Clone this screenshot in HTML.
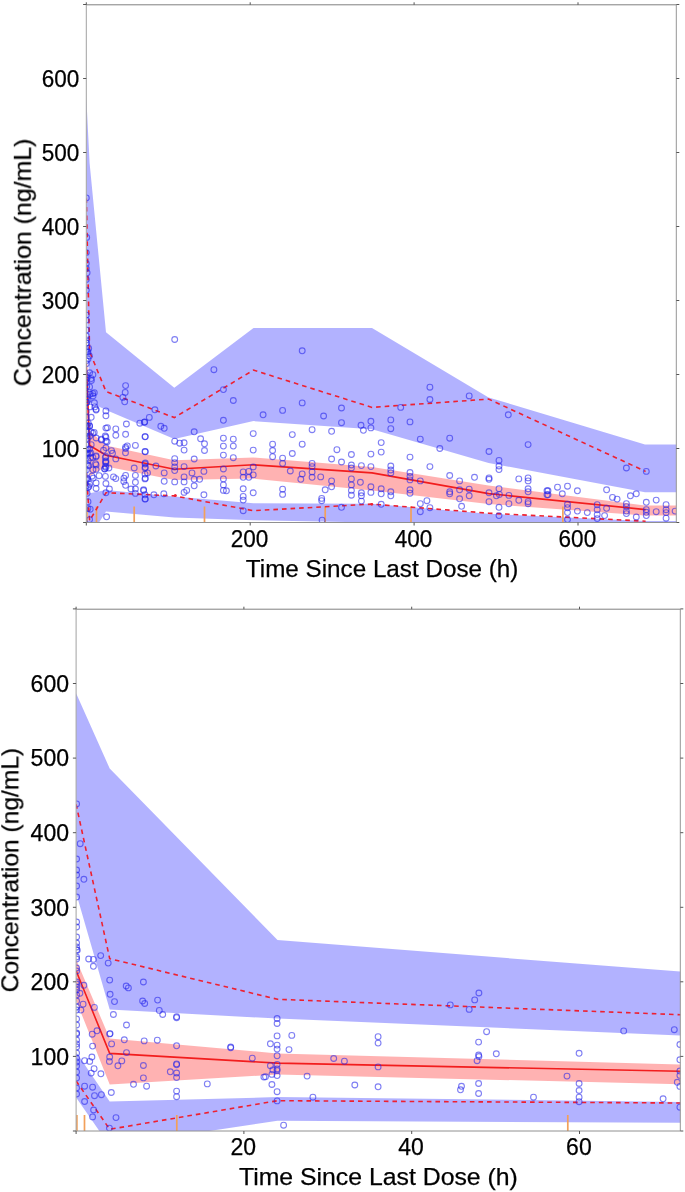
<!DOCTYPE html>
<html><head><meta charset="utf-8"><title>VPC</title>
<style>html,body{margin:0;padding:0;background:#fff}body{width:685px;height:1192px;overflow:hidden;font-family:"Liberation Sans",sans-serif}svg{display:block}</style>
</head><body>
<svg width="685" height="1192" viewBox="0 0 685 1192"><rect width="685" height="1192" fill="#fff"/><defs><filter id="nf" x="-5%" y="-5%" width="110%" height="110%"><feOffset dx="0" dy="0"/></filter></defs><clipPath id="ct"><rect x="86.3" y="4.8" width="590.0" height="517.7"/></clipPath>
<g clip-path="url(#ct)">
<polygon points="86.3,97.0 89.6,162.9 106.0,332.3 174.3,387.8 253.5,327.9 372.0,327.9 488.6,397.4 645.0,444.4 678.0,444.4 678.0,492.2 645.0,492.2 488.6,462.9 372.0,429.3 253.5,421.1 174.3,438.9 106.0,410.0 89.6,401.9 86.3,286.4" fill="rgb(0,0,255)" fill-opacity="0.3"/>
<polygon points="86.3,444.1 89.6,493.3 106.0,489.9 174.3,496.4 253.5,503.3 372.0,503.8 488.6,513.8 645.0,521.0 678.0,521.0 678.0,522.5 645.0,522.5 488.6,522.5 372.0,522.5 253.5,520.3 174.3,517.4 106.0,511.5 89.6,537.3 86.3,489.2" fill="rgb(0,0,255)" fill-opacity="0.3"/>
<polygon points="86.3,352.3 89.6,430.7 106.0,445.5 174.3,460.3 253.5,457.5 372.0,467.0 488.6,485.5 645.0,505.5 678.0,505.5 678.0,515.5 645.0,515.5 488.6,504.0 372.0,490.4 253.5,478.6 174.3,479.9 106.0,466.4 89.6,476.2 86.3,393.0" fill="rgb(255,0,0)" fill-opacity="0.30"/>
<line x1="87.0" y1="506.5" x2="87.0" y2="522.5" stroke="#f2a05a" stroke-width="1.7"/>
<line x1="96.5" y1="506.5" x2="96.5" y2="522.5" stroke="#f2a05a" stroke-width="1.7"/>
<line x1="134.2" y1="506.5" x2="134.2" y2="522.5" stroke="#f2a05a" stroke-width="1.7"/>
<line x1="204.5" y1="506.5" x2="204.5" y2="522.5" stroke="#f2a05a" stroke-width="1.7"/>
<line x1="325.2" y1="506.5" x2="325.2" y2="522.5" stroke="#f2a05a" stroke-width="1.7"/>
<line x1="411.0" y1="506.5" x2="411.0" y2="522.5" stroke="#f2a05a" stroke-width="1.7"/>
<line x1="562.9" y1="506.5" x2="562.9" y2="522.5" stroke="#f2a05a" stroke-width="1.7"/>
<polyline points="86.3,363.4 89.6,445.5 106.0,455.2 174.3,469.2 253.5,464.8 372.0,472.9 488.6,493.6 645.6,509.6" fill="none" stroke="#f21d1d" stroke-width="1.6"/>
<polyline points="86.3,198.4 89.6,351.6 106.0,391.5 174.3,417.6 253.5,370.1 372.0,407.4 488.6,399.1 645.6,471.4" fill="none" stroke="#ee2030" stroke-width="1.6" stroke-dasharray="4.6,4"/>
<polyline points="86.3,472.9 89.6,520.8 106.0,492.7 174.3,495.9 253.5,510.7 372.0,504.1 488.6,513.2 645.6,521.2" fill="none" stroke="#ee2030" stroke-width="1.6" stroke-dasharray="4.6,4"/>
<g fill="none" stroke="#2222ea" stroke-opacity="0.58" stroke-width="1.1">
<circle cx="174.7" cy="339.5" r="2.9"/>
<circle cx="213.9" cy="369.7" r="2.9"/>
<circle cx="223.4" cy="389.6" r="2.9"/>
<circle cx="233.3" cy="400.5" r="2.9"/>
<circle cx="263.1" cy="414.8" r="2.9"/>
<circle cx="223.4" cy="420.3" r="2.9"/>
<circle cx="154.9" cy="409.8" r="2.9"/>
<circle cx="149.3" cy="417.4" r="2.9"/>
<circle cx="144.4" cy="422.3" r="2.9"/>
<circle cx="160.8" cy="426.3" r="2.9"/>
<circle cx="164.2" cy="428.3" r="2.9"/>
<circle cx="194.2" cy="431.8" r="2.9"/>
<circle cx="145.0" cy="436.8" r="2.9"/>
<circle cx="145.0" cy="451.5" r="2.9"/>
<circle cx="174.7" cy="441.2" r="2.9"/>
<circle cx="179.7" cy="443.2" r="2.9"/>
<circle cx="184.1" cy="442.8" r="2.9"/>
<circle cx="184.1" cy="450.1" r="2.9"/>
<circle cx="200.6" cy="438.8" r="2.9"/>
<circle cx="204.5" cy="443.8" r="2.9"/>
<circle cx="204.5" cy="450.5" r="2.9"/>
<circle cx="223.4" cy="438.2" r="2.9"/>
<circle cx="223.4" cy="446.1" r="2.9"/>
<circle cx="223.4" cy="455.1" r="2.9"/>
<circle cx="233.3" cy="439.2" r="2.9"/>
<circle cx="233.3" cy="446.1" r="2.9"/>
<circle cx="233.3" cy="457.7" r="2.9"/>
<circle cx="253.2" cy="433.6" r="2.9"/>
<circle cx="253.2" cy="450.1" r="2.9"/>
<circle cx="272.6" cy="444.2" r="2.9"/>
<circle cx="272.6" cy="450.5" r="2.9"/>
<circle cx="272.6" cy="456.7" r="2.9"/>
<circle cx="194.2" cy="459.0" r="2.9"/>
<circle cx="174.7" cy="458.6" r="2.9"/>
<circle cx="174.7" cy="462.6" r="2.9"/>
<circle cx="174.7" cy="467.0" r="2.9"/>
<circle cx="174.7" cy="470.6" r="2.9"/>
<circle cx="184.1" cy="466.6" r="2.9"/>
<circle cx="155.9" cy="466.0" r="2.9"/>
<circle cx="145.0" cy="464.0" r="2.9"/>
<circle cx="145.0" cy="468.0" r="2.9"/>
<circle cx="147.5" cy="472.9" r="2.9"/>
<circle cx="164.2" cy="472.9" r="2.9"/>
<circle cx="164.2" cy="481.3" r="2.9"/>
<circle cx="174.7" cy="481.9" r="2.9"/>
<circle cx="184.1" cy="476.9" r="2.9"/>
<circle cx="184.1" cy="481.9" r="2.9"/>
<circle cx="192.0" cy="472.9" r="2.9"/>
<circle cx="194.2" cy="479.3" r="2.9"/>
<circle cx="199.6" cy="479.3" r="2.9"/>
<circle cx="203.9" cy="471.4" r="2.9"/>
<circle cx="194.2" cy="485.8" r="2.9"/>
<circle cx="223.4" cy="469.0" r="2.9"/>
<circle cx="223.4" cy="478.9" r="2.9"/>
<circle cx="223.4" cy="484.9" r="2.9"/>
<circle cx="223.4" cy="490.4" r="2.9"/>
<circle cx="226.4" cy="490.8" r="2.9"/>
<circle cx="243.2" cy="471.9" r="2.9"/>
<circle cx="243.2" cy="477.3" r="2.9"/>
<circle cx="248.8" cy="471.4" r="2.9"/>
<circle cx="248.8" cy="477.3" r="2.9"/>
<circle cx="253.2" cy="467.0" r="2.9"/>
<circle cx="253.2" cy="474.9" r="2.9"/>
<circle cx="243.2" cy="488.8" r="2.9"/>
<circle cx="253.2" cy="492.8" r="2.9"/>
<circle cx="243.2" cy="496.4" r="2.9"/>
<circle cx="243.2" cy="500.1" r="2.9"/>
<circle cx="243.2" cy="510.7" r="2.9"/>
<circle cx="145.0" cy="478.9" r="2.9"/>
<circle cx="143.6" cy="489.8" r="2.9"/>
<circle cx="145.0" cy="494.8" r="2.9"/>
<circle cx="145.0" cy="499.1" r="2.9"/>
<circle cx="153.9" cy="494.8" r="2.9"/>
<circle cx="163.8" cy="493.8" r="2.9"/>
<circle cx="184.1" cy="492.4" r="2.9"/>
<circle cx="186.7" cy="490.4" r="2.9"/>
<circle cx="203.9" cy="494.8" r="2.9"/>
<circle cx="302.2" cy="350.8" r="2.9"/>
<circle cx="302.2" cy="402.9" r="2.9"/>
<circle cx="282.6" cy="410.4" r="2.9"/>
<circle cx="323.6" cy="416.0" r="2.9"/>
<circle cx="341.5" cy="408.0" r="2.9"/>
<circle cx="341.5" cy="422.7" r="2.9"/>
<circle cx="361.0" cy="425.3" r="2.9"/>
<circle cx="363.4" cy="430.3" r="2.9"/>
<circle cx="370.9" cy="421.3" r="2.9"/>
<circle cx="370.9" cy="427.9" r="2.9"/>
<circle cx="390.8" cy="419.9" r="2.9"/>
<circle cx="390.8" cy="428.7" r="2.9"/>
<circle cx="400.7" cy="407.4" r="2.9"/>
<circle cx="410.0" cy="421.9" r="2.9"/>
<circle cx="292.3" cy="434.6" r="2.9"/>
<circle cx="312.1" cy="429.7" r="2.9"/>
<circle cx="331.6" cy="431.3" r="2.9"/>
<circle cx="302.2" cy="444.2" r="2.9"/>
<circle cx="292.3" cy="453.5" r="2.9"/>
<circle cx="336.9" cy="449.7" r="2.9"/>
<circle cx="331.6" cy="459.0" r="2.9"/>
<circle cx="282.6" cy="458.1" r="2.9"/>
<circle cx="282.6" cy="463.4" r="2.9"/>
<circle cx="351.4" cy="454.5" r="2.9"/>
<circle cx="370.9" cy="454.1" r="2.9"/>
<circle cx="381.2" cy="442.6" r="2.9"/>
<circle cx="381.2" cy="452.1" r="2.9"/>
<circle cx="341.5" cy="462.0" r="2.9"/>
<circle cx="312.1" cy="463.4" r="2.9"/>
<circle cx="312.1" cy="466.6" r="2.9"/>
<circle cx="312.1" cy="471.9" r="2.9"/>
<circle cx="312.1" cy="477.3" r="2.9"/>
<circle cx="290.3" cy="471.0" r="2.9"/>
<circle cx="302.2" cy="473.9" r="2.9"/>
<circle cx="300.8" cy="479.3" r="2.9"/>
<circle cx="320.7" cy="476.9" r="2.9"/>
<circle cx="331.6" cy="480.9" r="2.9"/>
<circle cx="331.6" cy="486.8" r="2.9"/>
<circle cx="325.2" cy="489.8" r="2.9"/>
<circle cx="351.4" cy="465.0" r="2.9"/>
<circle cx="351.4" cy="468.0" r="2.9"/>
<circle cx="351.4" cy="478.9" r="2.9"/>
<circle cx="351.4" cy="484.9" r="2.9"/>
<circle cx="351.4" cy="490.4" r="2.9"/>
<circle cx="351.4" cy="495.2" r="2.9"/>
<circle cx="361.4" cy="465.6" r="2.9"/>
<circle cx="360.4" cy="482.3" r="2.9"/>
<circle cx="361.4" cy="492.8" r="2.9"/>
<circle cx="361.4" cy="495.8" r="2.9"/>
<circle cx="361.4" cy="501.1" r="2.9"/>
<circle cx="370.9" cy="466.6" r="2.9"/>
<circle cx="370.9" cy="486.8" r="2.9"/>
<circle cx="370.9" cy="492.4" r="2.9"/>
<circle cx="381.2" cy="488.8" r="2.9"/>
<circle cx="381.2" cy="493.8" r="2.9"/>
<circle cx="381.2" cy="504.3" r="2.9"/>
<circle cx="390.8" cy="466.0" r="2.9"/>
<circle cx="390.8" cy="470.0" r="2.9"/>
<circle cx="390.8" cy="472.9" r="2.9"/>
<circle cx="390.8" cy="491.8" r="2.9"/>
<circle cx="390.8" cy="495.8" r="2.9"/>
<circle cx="410.0" cy="457.1" r="2.9"/>
<circle cx="410.0" cy="472.5" r="2.9"/>
<circle cx="410.0" cy="476.5" r="2.9"/>
<circle cx="410.0" cy="479.9" r="2.9"/>
<circle cx="410.0" cy="489.8" r="2.9"/>
<circle cx="410.0" cy="493.2" r="2.9"/>
<circle cx="282.6" cy="489.2" r="2.9"/>
<circle cx="282.6" cy="494.4" r="2.9"/>
<circle cx="321.7" cy="498.4" r="2.9"/>
<circle cx="321.7" cy="500.7" r="2.9"/>
<circle cx="341.5" cy="507.3" r="2.9"/>
<circle cx="322.1" cy="520.2" r="2.9"/>
<circle cx="429.9" cy="387.2" r="2.9"/>
<circle cx="429.9" cy="399.5" r="2.9"/>
<circle cx="469.2" cy="395.9" r="2.9"/>
<circle cx="508.3" cy="414.8" r="2.9"/>
<circle cx="420.3" cy="439.2" r="2.9"/>
<circle cx="449.7" cy="438.2" r="2.9"/>
<circle cx="439.8" cy="448.5" r="2.9"/>
<circle cx="489.0" cy="451.5" r="2.9"/>
<circle cx="528.1" cy="444.6" r="2.9"/>
<circle cx="499.0" cy="460.4" r="2.9"/>
<circle cx="499.0" cy="466.0" r="2.9"/>
<circle cx="499.0" cy="469.6" r="2.9"/>
<circle cx="429.9" cy="466.6" r="2.9"/>
<circle cx="449.7" cy="475.5" r="2.9"/>
<circle cx="459.6" cy="480.9" r="2.9"/>
<circle cx="474.5" cy="477.3" r="2.9"/>
<circle cx="489.0" cy="477.9" r="2.9"/>
<circle cx="489.0" cy="479.3" r="2.9"/>
<circle cx="518.8" cy="478.9" r="2.9"/>
<circle cx="528.1" cy="477.9" r="2.9"/>
<circle cx="528.1" cy="480.9" r="2.9"/>
<circle cx="420.3" cy="480.9" r="2.9"/>
<circle cx="449.7" cy="491.8" r="2.9"/>
<circle cx="449.7" cy="493.8" r="2.9"/>
<circle cx="459.6" cy="489.8" r="2.9"/>
<circle cx="469.2" cy="489.2" r="2.9"/>
<circle cx="469.2" cy="495.8" r="2.9"/>
<circle cx="459.6" cy="498.8" r="2.9"/>
<circle cx="461.6" cy="506.3" r="2.9"/>
<circle cx="489.0" cy="492.8" r="2.9"/>
<circle cx="489.0" cy="501.7" r="2.9"/>
<circle cx="499.0" cy="488.8" r="2.9"/>
<circle cx="496.4" cy="495.8" r="2.9"/>
<circle cx="499.4" cy="494.4" r="2.9"/>
<circle cx="508.9" cy="495.4" r="2.9"/>
<circle cx="508.9" cy="503.7" r="2.9"/>
<circle cx="518.8" cy="500.3" r="2.9"/>
<circle cx="528.1" cy="488.8" r="2.9"/>
<circle cx="528.1" cy="491.8" r="2.9"/>
<circle cx="528.1" cy="501.7" r="2.9"/>
<circle cx="528.1" cy="503.7" r="2.9"/>
<circle cx="499.0" cy="507.3" r="2.9"/>
<circle cx="499.0" cy="515.6" r="2.9"/>
<circle cx="426.9" cy="500.7" r="2.9"/>
<circle cx="420.3" cy="503.7" r="2.9"/>
<circle cx="429.9" cy="507.7" r="2.9"/>
<circle cx="420.3" cy="511.7" r="2.9"/>
<circle cx="547.0" cy="490.8" r="2.9"/>
<circle cx="547.0" cy="494.8" r="2.9"/>
<circle cx="626.4" cy="468.0" r="2.9"/>
<circle cx="646.3" cy="471.4" r="2.9"/>
<circle cx="557.5" cy="487.2" r="2.9"/>
<circle cx="567.5" cy="486.2" r="2.9"/>
<circle cx="562.3" cy="493.8" r="2.9"/>
<circle cx="577.4" cy="490.8" r="2.9"/>
<circle cx="606.6" cy="489.8" r="2.9"/>
<circle cx="612.5" cy="497.4" r="2.9"/>
<circle cx="617.1" cy="499.1" r="2.9"/>
<circle cx="630.4" cy="495.8" r="2.9"/>
<circle cx="636.3" cy="493.8" r="2.9"/>
<circle cx="646.3" cy="502.3" r="2.9"/>
<circle cx="656.2" cy="500.1" r="2.9"/>
<circle cx="666.1" cy="504.7" r="2.9"/>
<circle cx="548.0" cy="490.8" r="2.9"/>
<circle cx="548.0" cy="494.8" r="2.9"/>
<circle cx="567.5" cy="504.3" r="2.9"/>
<circle cx="567.5" cy="507.7" r="2.9"/>
<circle cx="567.5" cy="512.6" r="2.9"/>
<circle cx="567.5" cy="519.6" r="2.9"/>
<circle cx="577.4" cy="511.1" r="2.9"/>
<circle cx="587.3" cy="512.6" r="2.9"/>
<circle cx="597.2" cy="504.7" r="2.9"/>
<circle cx="597.2" cy="509.7" r="2.9"/>
<circle cx="597.2" cy="514.6" r="2.9"/>
<circle cx="597.2" cy="518.6" r="2.9"/>
<circle cx="604.6" cy="515.6" r="2.9"/>
<circle cx="606.6" cy="508.3" r="2.9"/>
<circle cx="626.4" cy="503.7" r="2.9"/>
<circle cx="626.4" cy="506.7" r="2.9"/>
<circle cx="626.4" cy="511.1" r="2.9"/>
<circle cx="626.4" cy="513.6" r="2.9"/>
<circle cx="636.3" cy="517.0" r="2.9"/>
<circle cx="646.3" cy="509.7" r="2.9"/>
<circle cx="646.3" cy="512.3" r="2.9"/>
<circle cx="646.3" cy="515.6" r="2.9"/>
<circle cx="656.2" cy="511.7" r="2.9"/>
<circle cx="666.1" cy="509.7" r="2.9"/>
<circle cx="666.1" cy="512.6" r="2.9"/>
<circle cx="666.1" cy="518.2" r="2.9"/>
<circle cx="675.1" cy="511.1" r="2.9"/>
<circle cx="105.9" cy="410.9" r="2.9"/>
<circle cx="105.9" cy="415.8" r="2.9"/>
<circle cx="105.9" cy="428.1" r="2.9"/>
<circle cx="105.9" cy="437.3" r="2.9"/>
<circle cx="105.9" cy="441.2" r="2.9"/>
<circle cx="105.9" cy="447.8" r="2.9"/>
<circle cx="105.9" cy="456.5" r="2.9"/>
<circle cx="105.9" cy="460.9" r="2.9"/>
<circle cx="105.9" cy="462.6" r="2.9"/>
<circle cx="105.9" cy="467.5" r="2.9"/>
<circle cx="105.9" cy="483.5" r="2.9"/>
<circle cx="105.9" cy="492.7" r="2.9"/>
<circle cx="107.4" cy="427.7" r="2.9"/>
<circle cx="105.3" cy="436.0" r="2.9"/>
<circle cx="107.1" cy="441.7" r="2.9"/>
<circle cx="105.3" cy="457.7" r="2.9"/>
<circle cx="105.5" cy="461.9" r="2.9"/>
<circle cx="105.4" cy="466.3" r="2.9"/>
<circle cx="104.8" cy="468.8" r="2.9"/>
<circle cx="105.4" cy="476.4" r="2.9"/>
<circle cx="108.9" cy="468.0" r="2.9"/>
<circle cx="109.4" cy="489.0" r="2.9"/>
<circle cx="106.6" cy="516.8" r="2.9"/>
<circle cx="111.5" cy="450.6" r="2.9"/>
<circle cx="112.5" cy="453.3" r="2.9"/>
<circle cx="113.5" cy="476.9" r="2.9"/>
<circle cx="115.8" cy="428.9" r="2.9"/>
<circle cx="115.8" cy="435.3" r="2.9"/>
<circle cx="115.8" cy="458.9" r="2.9"/>
<circle cx="115.8" cy="478.6" r="2.9"/>
<circle cx="125.6" cy="385.6" r="2.9"/>
<circle cx="125.2" cy="392.4" r="2.9"/>
<circle cx="122.9" cy="397.4" r="2.9"/>
<circle cx="124.7" cy="401.8" r="2.9"/>
<circle cx="126.4" cy="424.0" r="2.9"/>
<circle cx="125.6" cy="434.3" r="2.9"/>
<circle cx="125.6" cy="447.1" r="2.9"/>
<circle cx="125.6" cy="448.6" r="2.9"/>
<circle cx="125.5" cy="452.8" r="2.9"/>
<circle cx="127.3" cy="445.9" r="2.9"/>
<circle cx="125.6" cy="475.4" r="2.9"/>
<circle cx="125.6" cy="485.3" r="2.9"/>
<circle cx="123.9" cy="478.1" r="2.9"/>
<circle cx="123.8" cy="481.6" r="2.9"/>
<circle cx="131.0" cy="489.0" r="2.9"/>
<circle cx="134.2" cy="468.0" r="2.9"/>
<circle cx="135.4" cy="445.4" r="2.9"/>
<circle cx="135.4" cy="475.4" r="2.9"/>
<circle cx="135.4" cy="482.3" r="2.9"/>
<circle cx="135.4" cy="489.0" r="2.9"/>
<circle cx="135.4" cy="493.4" r="2.9"/>
<circle cx="139.8" cy="423.2" r="2.9"/>
<circle cx="144.7" cy="422.0" r="2.9"/>
<circle cx="145.3" cy="436.6" r="2.9"/>
<circle cx="145.3" cy="451.8" r="2.9"/>
<circle cx="145.3" cy="463.0" r="2.9"/>
<circle cx="145.3" cy="467.3" r="2.9"/>
<circle cx="145.0" cy="474.1" r="2.9"/>
<circle cx="145.3" cy="478.2" r="2.9"/>
<circle cx="143.6" cy="490.5" r="2.9"/>
<circle cx="145.3" cy="498.9" r="2.9"/>
<circle cx="96.1" cy="409.2" r="2.9"/>
<circle cx="96.1" cy="410.1" r="2.9"/>
<circle cx="96.1" cy="438.0" r="2.9"/>
<circle cx="96.1" cy="455.9" r="2.9"/>
<circle cx="96.1" cy="456.7" r="2.9"/>
<circle cx="96.1" cy="464.9" r="2.9"/>
<circle cx="96.1" cy="469.4" r="2.9"/>
<circle cx="96.1" cy="482.9" r="2.9"/>
<circle cx="96.1" cy="488.5" r="2.9"/>
<circle cx="95.5" cy="463.7" r="2.9"/>
<circle cx="99.1" cy="475.7" r="2.9"/>
<circle cx="101.4" cy="439.2" r="2.9"/>
<circle cx="101.4" cy="439.9" r="2.9"/>
<circle cx="103.5" cy="450.3" r="2.9"/>
<circle cx="104.6" cy="469.0" r="2.9"/>
<circle cx="88.7" cy="348.5" r="2.9"/>
<circle cx="87.5" cy="351.8" r="2.9"/>
<circle cx="88.0" cy="352.3" r="2.9"/>
<circle cx="88.0" cy="359.1" r="2.9"/>
<circle cx="89.4" cy="355.9" r="2.9"/>
<circle cx="89.6" cy="372.8" r="2.9"/>
<circle cx="91.2" cy="378.6" r="2.9"/>
<circle cx="91.4" cy="380.5" r="2.9"/>
<circle cx="92.9" cy="374.7" r="2.9"/>
<circle cx="89.6" cy="386.9" r="2.9"/>
<circle cx="90.1" cy="394.1" r="2.9"/>
<circle cx="92.8" cy="393.5" r="2.9"/>
<circle cx="93.0" cy="396.0" r="2.9"/>
<circle cx="94.3" cy="392.7" r="2.9"/>
<circle cx="94.4" cy="402.8" r="2.9"/>
<circle cx="94.8" cy="406.9" r="2.9"/>
<circle cx="89.9" cy="406.9" r="2.9"/>
<circle cx="91.2" cy="417.3" r="2.9"/>
<circle cx="88.1" cy="399.9" r="2.9"/>
<circle cx="87.0" cy="396.7" r="2.9"/>
<circle cx="86.8" cy="402.5" r="2.9"/>
<circle cx="86.7" cy="385.9" r="2.9"/>
<circle cx="87.1" cy="377.9" r="2.9"/>
<circle cx="88.3" cy="423.1" r="2.9"/>
<circle cx="87.9" cy="426.4" r="2.9"/>
<circle cx="89.6" cy="426.1" r="2.9"/>
<circle cx="86.4" cy="343.1" r="2.9"/>
<circle cx="89.6" cy="425.9" r="2.9"/>
<circle cx="91.0" cy="432.0" r="2.9"/>
<circle cx="92.9" cy="433.1" r="2.9"/>
<circle cx="94.2" cy="432.4" r="2.9"/>
<circle cx="89.8" cy="436.0" r="2.9"/>
<circle cx="91.2" cy="444.7" r="2.9"/>
<circle cx="87.9" cy="438.2" r="2.9"/>
<circle cx="87.8" cy="449.1" r="2.9"/>
<circle cx="87.1" cy="452.7" r="2.9"/>
<circle cx="87.6" cy="453.4" r="2.9"/>
<circle cx="88.1" cy="460.7" r="2.9"/>
<circle cx="87.8" cy="465.0" r="2.9"/>
<circle cx="88.7" cy="465.7" r="2.9"/>
<circle cx="89.6" cy="449.1" r="2.9"/>
<circle cx="89.6" cy="453.4" r="2.9"/>
<circle cx="90.8" cy="453.0" r="2.9"/>
<circle cx="90.4" cy="457.8" r="2.9"/>
<circle cx="92.9" cy="457.5" r="2.9"/>
<circle cx="92.9" cy="469.8" r="2.9"/>
<circle cx="91.9" cy="476.2" r="2.9"/>
<circle cx="93.2" cy="478.1" r="2.9"/>
<circle cx="89.7" cy="484.3" r="2.9"/>
<circle cx="87.1" cy="478.1" r="2.9"/>
<circle cx="87.9" cy="479.1" r="2.9"/>
<circle cx="88.1" cy="487.5" r="2.9"/>
<circle cx="88.8" cy="486.5" r="2.9"/>
<circle cx="87.1" cy="493.3" r="2.9"/>
<circle cx="88.0" cy="501.7" r="2.9"/>
<circle cx="87.9" cy="508.5" r="2.9"/>
<circle cx="90.2" cy="509.2" r="2.9"/>
<circle cx="89.6" cy="519.6" r="2.9"/>
<circle cx="86.7" cy="237.5" r="2.9"/>
<circle cx="87.1" cy="272.8" r="2.9"/>
<circle cx="86.3" cy="197.9" r="2.9"/>
<circle cx="86.3" cy="252.6" r="2.9"/>
<circle cx="86.3" cy="263.5" r="2.9"/>
<circle cx="86.3" cy="268.5" r="2.9"/>
<circle cx="86.3" cy="279.4" r="2.9"/>
<circle cx="86.3" cy="290.3" r="2.9"/>
<circle cx="86.3" cy="315.1" r="2.9"/>
<circle cx="86.3" cy="320.1" r="2.9"/>
<circle cx="86.3" cy="330.0" r="2.9"/>
<circle cx="86.3" cy="336.0" r="2.9"/>
<circle cx="86.3" cy="339.9" r="2.9"/>
<circle cx="86.3" cy="342.9" r="2.9"/>
<circle cx="86.3" cy="349.9" r="2.9"/>
<circle cx="86.3" cy="351.8" r="2.9"/>
<circle cx="86.3" cy="360.8" r="2.9"/>
<circle cx="86.3" cy="363.7" r="2.9"/>
<circle cx="86.3" cy="374.7" r="2.9"/>
<circle cx="86.3" cy="376.6" r="2.9"/>
<circle cx="86.3" cy="379.6" r="2.9"/>
<circle cx="86.3" cy="382.6" r="2.9"/>
<circle cx="86.3" cy="387.6" r="2.9"/>
<circle cx="86.3" cy="393.5" r="2.9"/>
<circle cx="86.3" cy="399.5" r="2.9"/>
<circle cx="86.3" cy="411.4" r="2.9"/>
<circle cx="86.3" cy="425.3" r="2.9"/>
<circle cx="86.3" cy="426.3" r="2.9"/>
<circle cx="86.3" cy="436.2" r="2.9"/>
<circle cx="86.3" cy="445.1" r="2.9"/>
<circle cx="86.3" cy="458.0" r="2.9"/>
<circle cx="86.3" cy="464.0" r="2.9"/>
<circle cx="86.3" cy="485.8" r="2.9"/>
<circle cx="86.3" cy="439.2" r="2.9"/>
<circle cx="86.3" cy="454.0" r="2.9"/>
<circle cx="86.3" cy="469.9" r="2.9"/>
<circle cx="86.3" cy="479.8" r="2.9"/>
<circle cx="86.3" cy="402.4" r="2.9"/>
<circle cx="86.3" cy="417.3" r="2.9"/>
<circle cx="86.3" cy="432.2" r="2.9"/>
<circle cx="86.3" cy="450.1" r="2.9"/>
</g></g>
<path d="M86.3,4.8H676.3" stroke="#808080" fill="none"/><path d="M676.3,4.8V522.5" stroke="#959595" fill="none"/><path d="M86.3,522.5H676.3" stroke="#909090" fill="none"/><path d="M86.3,4.8V522.5" stroke="#a2a2a2" fill="none"/>
<g stroke="#555" stroke-width="1">
<line x1="83.1" y1="522.5" x2="86.3" y2="522.5"/>
<line x1="676.3" y1="522.5" x2="679.3" y2="522.5"/>
<line x1="83.1" y1="448.5" x2="86.3" y2="448.5"/>
<line x1="676.3" y1="448.5" x2="679.3" y2="448.5"/>
<line x1="83.1" y1="374.5" x2="86.3" y2="374.5"/>
<line x1="676.3" y1="374.5" x2="679.3" y2="374.5"/>
<line x1="83.1" y1="300.5" x2="86.3" y2="300.5"/>
<line x1="676.3" y1="300.5" x2="679.3" y2="300.5"/>
<line x1="83.1" y1="226.5" x2="86.3" y2="226.5"/>
<line x1="676.3" y1="226.5" x2="679.3" y2="226.5"/>
<line x1="83.1" y1="152.5" x2="86.3" y2="152.5"/>
<line x1="676.3" y1="152.5" x2="679.3" y2="152.5"/>
<line x1="83.1" y1="78.5" x2="86.3" y2="78.5"/>
<line x1="676.3" y1="78.5" x2="679.3" y2="78.5"/>
<line x1="83.1" y1="4.5" x2="86.3" y2="4.5"/>
<line x1="676.3" y1="4.5" x2="679.3" y2="4.5"/>
<line x1="86.3" y1="522.5" x2="86.3" y2="525.5"/>
<line x1="86.3" y1="2.3" x2="86.3" y2="4.8"/>
<line x1="250.2" y1="522.5" x2="250.2" y2="525.5"/>
<line x1="250.2" y1="2.3" x2="250.2" y2="4.8"/>
<line x1="414.1" y1="522.5" x2="414.1" y2="525.5"/>
<line x1="414.1" y1="2.3" x2="414.1" y2="4.8"/>
<line x1="578.0" y1="522.5" x2="578.0" y2="525.5"/>
<line x1="578.0" y1="2.3" x2="578.0" y2="4.8"/>
</g>
<g font-family="Liberation Sans, sans-serif" fill="#000" stroke="#000" stroke-width="0.25" filter="url(#nf)">
<text x="79.3" y="457.2" font-size="23.60" text-anchor="end" textLength="37.6" lengthAdjust="spacingAndGlyphs">100</text>
<text x="79.3" y="383.2" font-size="23.60" text-anchor="end" textLength="37.6" lengthAdjust="spacingAndGlyphs">200</text>
<text x="79.3" y="309.2" font-size="23.60" text-anchor="end" textLength="37.6" lengthAdjust="spacingAndGlyphs">300</text>
<text x="79.3" y="235.2" font-size="23.60" text-anchor="end" textLength="37.6" lengthAdjust="spacingAndGlyphs">400</text>
<text x="79.3" y="161.2" font-size="23.60" text-anchor="end" textLength="37.6" lengthAdjust="spacingAndGlyphs">500</text>
<text x="79.3" y="87.2" font-size="23.60" text-anchor="end" textLength="37.6" lengthAdjust="spacingAndGlyphs">600</text>
<text x="249.6" y="546.5" font-size="23.60" text-anchor="middle" textLength="37.6" lengthAdjust="spacingAndGlyphs">200</text>
<text x="413.5" y="546.5" font-size="23.60" text-anchor="middle" textLength="37.6" lengthAdjust="spacingAndGlyphs">400</text>
<text x="577.4" y="546.5" font-size="23.60" text-anchor="middle" textLength="37.6" lengthAdjust="spacingAndGlyphs">600</text>
<text x="382.1" y="577.4" font-size="24.20" text-anchor="middle" textLength="272.5" lengthAdjust="spacingAndGlyphs">Time Since Last Dose (h)</text>
<text transform="translate(30.8,262.4) rotate(-90)" font-size="24" text-anchor="middle" textLength="247.5" lengthAdjust="spacingAndGlyphs">Concentration (ng/mL)</text>
</g><circle cx="175.3" cy="495.6" r="1.5" fill="#ee2030"/><circle cx="371.8" cy="504.3" r="1.4" fill="#ee2030"/><clipPath id="cb"><rect x="76.1" y="609.2" width="604.2" height="521.8"/></clipPath>
<g clip-path="url(#cb)">
<polygon points="76.1,693.2 109.7,768.5 277.5,940.1 680.2,971.6 697.0,972.9 697.0,1036.2 680.2,1035.5 277.5,1018.6 109.7,1009.4 76.1,893.1" fill="rgb(0,0,255)" fill-opacity="0.3"/>
<polygon points="76.1,1051.9 109.7,1101.5 277.5,1097.1 680.2,1101.9 697.0,1102.1 697.0,1122.8 680.2,1122.7 277.5,1120.8 109.7,1145.9 76.1,1097.4" fill="rgb(0,0,255)" fill-opacity="0.3"/>
<polygon points="76.1,959.5 109.7,1038.5 277.5,1053.4 680.2,1064.6 697.0,1065.1 697.0,1084.7 680.2,1084.3 277.5,1074.5 109.7,1084.4 76.1,1000.5" fill="rgb(255,0,0)" fill-opacity="0.30"/>
<line x1="76.9" y1="1115.0" x2="76.9" y2="1131.0" stroke="#f2a05a" stroke-width="1.7"/>
<line x1="84.5" y1="1115.0" x2="84.5" y2="1131.0" stroke="#f2a05a" stroke-width="1.7"/>
<line x1="176.8" y1="1115.0" x2="176.8" y2="1131.0" stroke="#f2a05a" stroke-width="1.7"/>
<line x1="567.8" y1="1115.0" x2="567.8" y2="1131.0" stroke="#f2a05a" stroke-width="1.7"/>
<polyline points="76.1,970.7 109.7,1053.4 277.5,1063.1 680.2,1071.3 697.0,1071.7" fill="none" stroke="#f21d1d" stroke-width="1.6"/>
<polyline points="76.1,804.3 109.7,958.7 277.5,999.3 680.2,1014.7 697.0,1015.3" fill="none" stroke="#ee2030" stroke-width="1.6" stroke-dasharray="4.6,4"/>
<polyline points="76.1,1081.0 109.7,1129.3 277.5,1100.7 680.2,1103.0 697.0,1103.1" fill="none" stroke="#ee2030" stroke-width="1.6" stroke-dasharray="4.6,4"/>
<g fill="none" stroke="#2222ea" stroke-opacity="0.58" stroke-width="1.1">
<circle cx="277.1" cy="1018.5" r="2.9"/>
<circle cx="277.1" cy="1023.5" r="2.9"/>
<circle cx="277.1" cy="1035.9" r="2.9"/>
<circle cx="277.1" cy="1045.1" r="2.9"/>
<circle cx="277.1" cy="1049.1" r="2.9"/>
<circle cx="277.1" cy="1055.8" r="2.9"/>
<circle cx="277.1" cy="1064.4" r="2.9"/>
<circle cx="277.1" cy="1068.9" r="2.9"/>
<circle cx="277.1" cy="1070.6" r="2.9"/>
<circle cx="277.1" cy="1075.6" r="2.9"/>
<circle cx="277.1" cy="1091.7" r="2.9"/>
<circle cx="277.1" cy="1100.9" r="2.9"/>
<circle cx="291.8" cy="1035.4" r="2.9"/>
<circle cx="270.4" cy="1043.8" r="2.9"/>
<circle cx="289.0" cy="1049.6" r="2.9"/>
<circle cx="270.4" cy="1065.7" r="2.9"/>
<circle cx="272.9" cy="1069.9" r="2.9"/>
<circle cx="271.9" cy="1074.4" r="2.9"/>
<circle cx="265.5" cy="1076.8" r="2.9"/>
<circle cx="271.9" cy="1084.5" r="2.9"/>
<circle cx="307.1" cy="1076.1" r="2.9"/>
<circle cx="312.9" cy="1097.2" r="2.9"/>
<circle cx="283.6" cy="1125.2" r="2.9"/>
<circle cx="333.7" cy="1058.5" r="2.9"/>
<circle cx="344.4" cy="1061.2" r="2.9"/>
<circle cx="354.8" cy="1085.0" r="2.9"/>
<circle cx="378.1" cy="1036.7" r="2.9"/>
<circle cx="378.1" cy="1043.1" r="2.9"/>
<circle cx="378.1" cy="1066.9" r="2.9"/>
<circle cx="378.1" cy="1086.8" r="2.9"/>
<circle cx="478.9" cy="993.0" r="2.9"/>
<circle cx="474.7" cy="999.9" r="2.9"/>
<circle cx="450.3" cy="1004.9" r="2.9"/>
<circle cx="469.2" cy="1009.4" r="2.9"/>
<circle cx="486.6" cy="1031.7" r="2.9"/>
<circle cx="478.6" cy="1042.1" r="2.9"/>
<circle cx="478.6" cy="1055.0" r="2.9"/>
<circle cx="478.9" cy="1056.5" r="2.9"/>
<circle cx="477.1" cy="1060.7" r="2.9"/>
<circle cx="496.3" cy="1053.8" r="2.9"/>
<circle cx="478.6" cy="1083.5" r="2.9"/>
<circle cx="478.6" cy="1093.5" r="2.9"/>
<circle cx="461.5" cy="1086.3" r="2.9"/>
<circle cx="460.5" cy="1089.8" r="2.9"/>
<circle cx="533.5" cy="1097.2" r="2.9"/>
<circle cx="567.0" cy="1076.1" r="2.9"/>
<circle cx="579.1" cy="1053.3" r="2.9"/>
<circle cx="579.1" cy="1083.5" r="2.9"/>
<circle cx="579.1" cy="1090.5" r="2.9"/>
<circle cx="579.1" cy="1097.2" r="2.9"/>
<circle cx="579.1" cy="1101.7" r="2.9"/>
<circle cx="623.7" cy="1030.9" r="2.9"/>
<circle cx="674.3" cy="1029.7" r="2.9"/>
<circle cx="679.9" cy="1044.5" r="2.9"/>
<circle cx="679.9" cy="1059.8" r="2.9"/>
<circle cx="679.9" cy="1071.0" r="2.9"/>
<circle cx="679.9" cy="1075.4" r="2.9"/>
<circle cx="677.3" cy="1082.3" r="2.9"/>
<circle cx="679.9" cy="1086.4" r="2.9"/>
<circle cx="663.1" cy="1098.8" r="2.9"/>
<circle cx="679.9" cy="1107.2" r="2.9"/>
<circle cx="176.6" cy="1016.8" r="2.9"/>
<circle cx="176.6" cy="1017.7" r="2.9"/>
<circle cx="176.6" cy="1045.8" r="2.9"/>
<circle cx="176.6" cy="1063.9" r="2.9"/>
<circle cx="176.6" cy="1064.7" r="2.9"/>
<circle cx="176.6" cy="1073.0" r="2.9"/>
<circle cx="176.6" cy="1077.5" r="2.9"/>
<circle cx="176.6" cy="1091.1" r="2.9"/>
<circle cx="176.6" cy="1096.7" r="2.9"/>
<circle cx="170.3" cy="1071.8" r="2.9"/>
<circle cx="207.3" cy="1083.9" r="2.9"/>
<circle cx="230.7" cy="1047.0" r="2.9"/>
<circle cx="230.7" cy="1047.8" r="2.9"/>
<circle cx="252.3" cy="1058.2" r="2.9"/>
<circle cx="263.9" cy="1077.1" r="2.9"/>
<circle cx="100.7" cy="955.6" r="2.9"/>
<circle cx="88.7" cy="959.0" r="2.9"/>
<circle cx="93.4" cy="959.4" r="2.9"/>
<circle cx="93.4" cy="966.3" r="2.9"/>
<circle cx="108.2" cy="963.1" r="2.9"/>
<circle cx="109.7" cy="980.1" r="2.9"/>
<circle cx="126.2" cy="986.0" r="2.9"/>
<circle cx="128.4" cy="987.9" r="2.9"/>
<circle cx="143.4" cy="982.0" r="2.9"/>
<circle cx="110.1" cy="994.3" r="2.9"/>
<circle cx="114.5" cy="1001.6" r="2.9"/>
<circle cx="142.6" cy="1001.0" r="2.9"/>
<circle cx="144.7" cy="1003.5" r="2.9"/>
<circle cx="157.6" cy="1000.1" r="2.9"/>
<circle cx="159.3" cy="1010.4" r="2.9"/>
<circle cx="162.7" cy="1014.5" r="2.9"/>
<circle cx="113.4" cy="1014.5" r="2.9"/>
<circle cx="126.5" cy="1025.0" r="2.9"/>
<circle cx="94.4" cy="1007.4" r="2.9"/>
<circle cx="83.1" cy="1004.2" r="2.9"/>
<circle cx="80.9" cy="1010.1" r="2.9"/>
<circle cx="79.9" cy="993.3" r="2.9"/>
<circle cx="83.9" cy="985.3" r="2.9"/>
<circle cx="97.0" cy="1030.8" r="2.9"/>
<circle cx="92.2" cy="1034.2" r="2.9"/>
<circle cx="109.7" cy="1033.9" r="2.9"/>
<circle cx="77.3" cy="950.2" r="2.9"/>
<circle cx="110.1" cy="1033.6" r="2.9"/>
<circle cx="124.3" cy="1039.8" r="2.9"/>
<circle cx="144.2" cy="1040.9" r="2.9"/>
<circle cx="157.3" cy="1040.2" r="2.9"/>
<circle cx="111.6" cy="1043.9" r="2.9"/>
<circle cx="126.5" cy="1052.6" r="2.9"/>
<circle cx="92.6" cy="1046.1" r="2.9"/>
<circle cx="91.9" cy="1057.0" r="2.9"/>
<circle cx="84.6" cy="1060.7" r="2.9"/>
<circle cx="89.7" cy="1061.4" r="2.9"/>
<circle cx="94.1" cy="1068.7" r="2.9"/>
<circle cx="91.2" cy="1073.1" r="2.9"/>
<circle cx="100.9" cy="1073.8" r="2.9"/>
<circle cx="109.7" cy="1057.0" r="2.9"/>
<circle cx="109.4" cy="1061.4" r="2.9"/>
<circle cx="121.8" cy="1060.9" r="2.9"/>
<circle cx="117.9" cy="1065.8" r="2.9"/>
<circle cx="143.4" cy="1065.5" r="2.9"/>
<circle cx="143.4" cy="1077.9" r="2.9"/>
<circle cx="133.5" cy="1084.3" r="2.9"/>
<circle cx="146.6" cy="1086.2" r="2.9"/>
<circle cx="111.3" cy="1092.5" r="2.9"/>
<circle cx="84.6" cy="1086.2" r="2.9"/>
<circle cx="92.6" cy="1087.2" r="2.9"/>
<circle cx="94.5" cy="1095.7" r="2.9"/>
<circle cx="101.4" cy="1094.7" r="2.9"/>
<circle cx="84.6" cy="1101.5" r="2.9"/>
<circle cx="93.6" cy="1110.0" r="2.9"/>
<circle cx="92.6" cy="1116.9" r="2.9"/>
<circle cx="116.0" cy="1117.6" r="2.9"/>
<circle cx="109.4" cy="1128.1" r="2.9"/>
<circle cx="80.2" cy="843.7" r="2.9"/>
<circle cx="83.9" cy="879.3" r="2.9"/>
<circle cx="76.6" cy="803.9" r="2.9"/>
<circle cx="76.6" cy="859.0" r="2.9"/>
<circle cx="76.6" cy="870.0" r="2.9"/>
<circle cx="76.6" cy="875.0" r="2.9"/>
<circle cx="76.6" cy="886.0" r="2.9"/>
<circle cx="76.6" cy="897.0" r="2.9"/>
<circle cx="76.6" cy="922.0" r="2.9"/>
<circle cx="76.6" cy="927.0" r="2.9"/>
<circle cx="76.6" cy="937.0" r="2.9"/>
<circle cx="76.6" cy="943.0" r="2.9"/>
<circle cx="76.6" cy="947.0" r="2.9"/>
<circle cx="76.6" cy="950.0" r="2.9"/>
<circle cx="76.6" cy="957.0" r="2.9"/>
<circle cx="76.6" cy="959.0" r="2.9"/>
<circle cx="76.6" cy="968.0" r="2.9"/>
<circle cx="76.6" cy="971.0" r="2.9"/>
<circle cx="76.6" cy="982.0" r="2.9"/>
<circle cx="76.6" cy="984.0" r="2.9"/>
<circle cx="76.6" cy="987.0" r="2.9"/>
<circle cx="76.6" cy="990.0" r="2.9"/>
<circle cx="76.6" cy="995.0" r="2.9"/>
<circle cx="76.6" cy="1001.0" r="2.9"/>
<circle cx="76.6" cy="1007.0" r="2.9"/>
<circle cx="76.6" cy="1019.0" r="2.9"/>
<circle cx="76.6" cy="1033.0" r="2.9"/>
<circle cx="76.6" cy="1034.0" r="2.9"/>
<circle cx="76.6" cy="1044.0" r="2.9"/>
<circle cx="76.6" cy="1053.0" r="2.9"/>
<circle cx="76.6" cy="1066.0" r="2.9"/>
<circle cx="76.6" cy="1072.0" r="2.9"/>
<circle cx="76.6" cy="1094.0" r="2.9"/>
<circle cx="76.6" cy="1047.0" r="2.9"/>
<circle cx="76.6" cy="1062.0" r="2.9"/>
<circle cx="76.6" cy="1078.0" r="2.9"/>
<circle cx="76.6" cy="1088.0" r="2.9"/>
<circle cx="76.6" cy="1010.0" r="2.9"/>
<circle cx="76.6" cy="1025.0" r="2.9"/>
<circle cx="76.6" cy="1040.0" r="2.9"/>
<circle cx="76.6" cy="1058.0" r="2.9"/>
</g></g>
<path d="M76.1,609.2H680.3" stroke="#808080" fill="none"/><path d="M680.3,609.2V1131.0" stroke="#959595" fill="none"/><path d="M76.1,1131.0H680.3" stroke="#909090" fill="none"/><path d="M76.1,609.2V1131.0" stroke="#a2a2a2" fill="none"/>
<g stroke="#555" stroke-width="1">
<line x1="72.9" y1="1131.0" x2="76.1" y2="1131.0"/>
<line x1="680.3" y1="1131.0" x2="683.3" y2="1131.0"/>
<line x1="72.9" y1="1056.4" x2="76.1" y2="1056.4"/>
<line x1="680.3" y1="1056.4" x2="683.3" y2="1056.4"/>
<line x1="72.9" y1="981.8" x2="76.1" y2="981.8"/>
<line x1="680.3" y1="981.8" x2="683.3" y2="981.8"/>
<line x1="72.9" y1="907.3" x2="76.1" y2="907.3"/>
<line x1="680.3" y1="907.3" x2="683.3" y2="907.3"/>
<line x1="72.9" y1="832.7" x2="76.1" y2="832.7"/>
<line x1="680.3" y1="832.7" x2="683.3" y2="832.7"/>
<line x1="72.9" y1="758.1" x2="76.1" y2="758.1"/>
<line x1="680.3" y1="758.1" x2="683.3" y2="758.1"/>
<line x1="72.9" y1="683.5" x2="76.1" y2="683.5"/>
<line x1="680.3" y1="683.5" x2="683.3" y2="683.5"/>
<line x1="72.9" y1="608.9" x2="76.1" y2="608.9"/>
<line x1="680.3" y1="608.9" x2="683.3" y2="608.9"/>
<line x1="76.1" y1="1131.0" x2="76.1" y2="1134.0"/>
<line x1="76.1" y1="606.7" x2="76.1" y2="609.2"/>
<line x1="243.9" y1="1131.0" x2="243.9" y2="1134.0"/>
<line x1="243.9" y1="606.7" x2="243.9" y2="609.2"/>
<line x1="411.7" y1="1131.0" x2="411.7" y2="1134.0"/>
<line x1="411.7" y1="606.7" x2="411.7" y2="609.2"/>
<line x1="579.5" y1="1131.0" x2="579.5" y2="1134.0"/>
<line x1="579.5" y1="606.7" x2="579.5" y2="609.2"/>
</g>
<g font-family="Liberation Sans, sans-serif" fill="#000" stroke="#000" stroke-width="0.25" filter="url(#nf)">
<text x="69.1" y="1064.7" font-size="24.17" text-anchor="end" textLength="38.5" lengthAdjust="spacingAndGlyphs">100</text>
<text x="69.1" y="990.1" font-size="24.17" text-anchor="end" textLength="38.5" lengthAdjust="spacingAndGlyphs">200</text>
<text x="69.1" y="915.6" font-size="24.17" text-anchor="end" textLength="38.5" lengthAdjust="spacingAndGlyphs">300</text>
<text x="69.1" y="841.0" font-size="24.17" text-anchor="end" textLength="38.5" lengthAdjust="spacingAndGlyphs">400</text>
<text x="69.1" y="766.4" font-size="24.17" text-anchor="end" textLength="38.5" lengthAdjust="spacingAndGlyphs">500</text>
<text x="69.1" y="691.8" font-size="24.17" text-anchor="end" textLength="38.5" lengthAdjust="spacingAndGlyphs">600</text>
<text x="243.3" y="1155.0" font-size="24.17" text-anchor="middle" textLength="25.6" lengthAdjust="spacingAndGlyphs">20</text>
<text x="411.1" y="1155.0" font-size="24.17" text-anchor="middle" textLength="25.6" lengthAdjust="spacingAndGlyphs">40</text>
<text x="578.9" y="1155.0" font-size="24.17" text-anchor="middle" textLength="25.6" lengthAdjust="spacingAndGlyphs">60</text>
<text x="378.4" y="1185.3" font-size="24.78" text-anchor="middle" textLength="279.0" lengthAdjust="spacingAndGlyphs">Time Since Last Dose (h)</text>
<text transform="translate(18.3,870.1) rotate(-90)" font-size="24.1" text-anchor="middle" textLength="244.5" lengthAdjust="spacingAndGlyphs">Concentration (ng/mL)</text>
</g></svg>
</body></html>
